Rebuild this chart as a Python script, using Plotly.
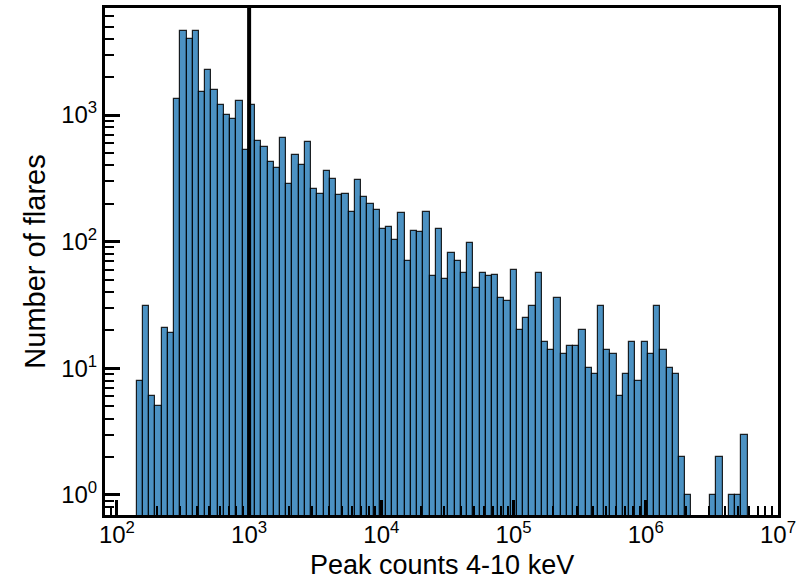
import numpy as np
import plotly.graph_objects as go

# ---- data (histogram counts per log-spaced bin) ----
bin_lo = 141.0        # left edge of first bin (peak counts)
bin_hi = 5.89e6       # right edge of last bin
counts = [8, 31, 6, 5, 21, 19, 1330, 4600, 3970, 4600,
          1520, 2250, 1580, 1210, 1000, 930, 1290, 526, 1210, 626,
          558, 422, 379, 658, 286, 480, 400, 608, 259, 236,
          359, 310, 233, 236, 170, 308, 226, 200, 177, 127,
          130, 104, 167, 70, 121, 120, 172, 54, 127, 51,
          81, 70, 57, 97, 43, 57, 54, 55, 36, 34,
          60, 20, 25, 31, 57, 16, 14, 36, 13, 15,
          15, 20, 10, 9, 31, 14, 13, 6, 9, 16,
          8, 16, 13, 31, 14, 10, 9, 2, 1, 0,
          0, 0, 1, 2, 0, 1, 1, 3]
threshold = 1e3
x_tick_exponents = [2, 3, 4, 5, 6, 7]
y_tick_values = [1, 10, 100, 1000]
x_title = "Peak counts 4-10 keV"
y_title = "Number of flares"

# ---- derived ----
n_bins = len(counts)
edges = np.linspace(np.log10(bin_lo), np.log10(bin_hi), n_bins + 1)
centers = 0.5 * (edges[:-1] + edges[1:])
width = edges[1] - edges[0]

x_minor = [np.log10(k * 10.0 ** n) for n in range(1, 7) for k in range(2, 10)]
y_minor = [k * 10.0 ** n for n in range(-1, 4) for k in range(2, 10)]

FONT = "Liberation Sans, Arial, Helvetica, sans-serif"

fig = go.Figure()
fig.add_trace(go.Bar(
    x=centers, y=counts, width=width,
    marker=dict(color="rgba(31,119,180,0.8)",
                line=dict(color="rgba(0,0,0,0.85)", width=1.2)),
    showlegend=False,
))

fig.add_shape(type="line", x0=np.log10(threshold), x1=np.log10(threshold),
              y0=0, y1=1, yref="paper", xref="x",
              line=dict(color="black", width=4))

fig.update_layout(
    width=802, height=581,
    margin=dict(l=105, r=24, t=8, b=66),
    paper_bgcolor="white", plot_bgcolor="white",
    font=dict(family=FONT, size=24, color="black"),
    bargap=0,
)

fig.update_xaxes(
    range=[1.91, 7.0],
    automargin=False,
    tickmode="array",
    tickvals=x_tick_exponents,
    ticktext=[f"10<sup>{e}</sup>" for e in x_tick_exponents],
    ticks="inside", ticklen=15, tickwidth=3, tickcolor="black",
    minor=dict(tickmode="array", tickvals=x_minor, ticks="inside",
               ticklen=9, tickwidth=2, tickcolor="black", showgrid=False),
    showline=True, linewidth=3, linecolor="black", mirror=True,
    showgrid=False, zeroline=False,
    tickfont=dict(size=24),
    ticklabelstandoff=-4,
)

fig.update_yaxes(
    type="log",
    range=[-0.158, 3.845],
    automargin=False,
    tickmode="array",
    tickvals=y_tick_values,
    ticktext=[f"10<sup>{int(np.log10(v))}</sup>" for v in y_tick_values],
    ticks="inside", ticklen=15, tickwidth=3, tickcolor="black",
    minor=dict(tickmode="array", tickvals=y_minor, ticks="inside",
               ticklen=9, tickwidth=2, tickcolor="black", showgrid=False),
    showline=True, linewidth=3, linecolor="black", mirror=True,
    showgrid=False, zeroline=False,
    tickfont=dict(size=24),
    title=dict(text=y_title, font=dict(size=29), standoff=8),
)

# x-axis title as a paper-anchored annotation so it sits where the reference has it
fig.add_annotation(text=x_title, xref="paper", yref="paper",
                   x=0.5, y=-0.099, xanchor="center", yanchor="middle",
                   showarrow=False, font=dict(size=27, family=FONT, color="black"))

fig.write_html("out.html",
               config={"displayModeBar": False},
               post_script="document.body.style.margin='0';"
                           "document.body.style.overflow='hidden';")
